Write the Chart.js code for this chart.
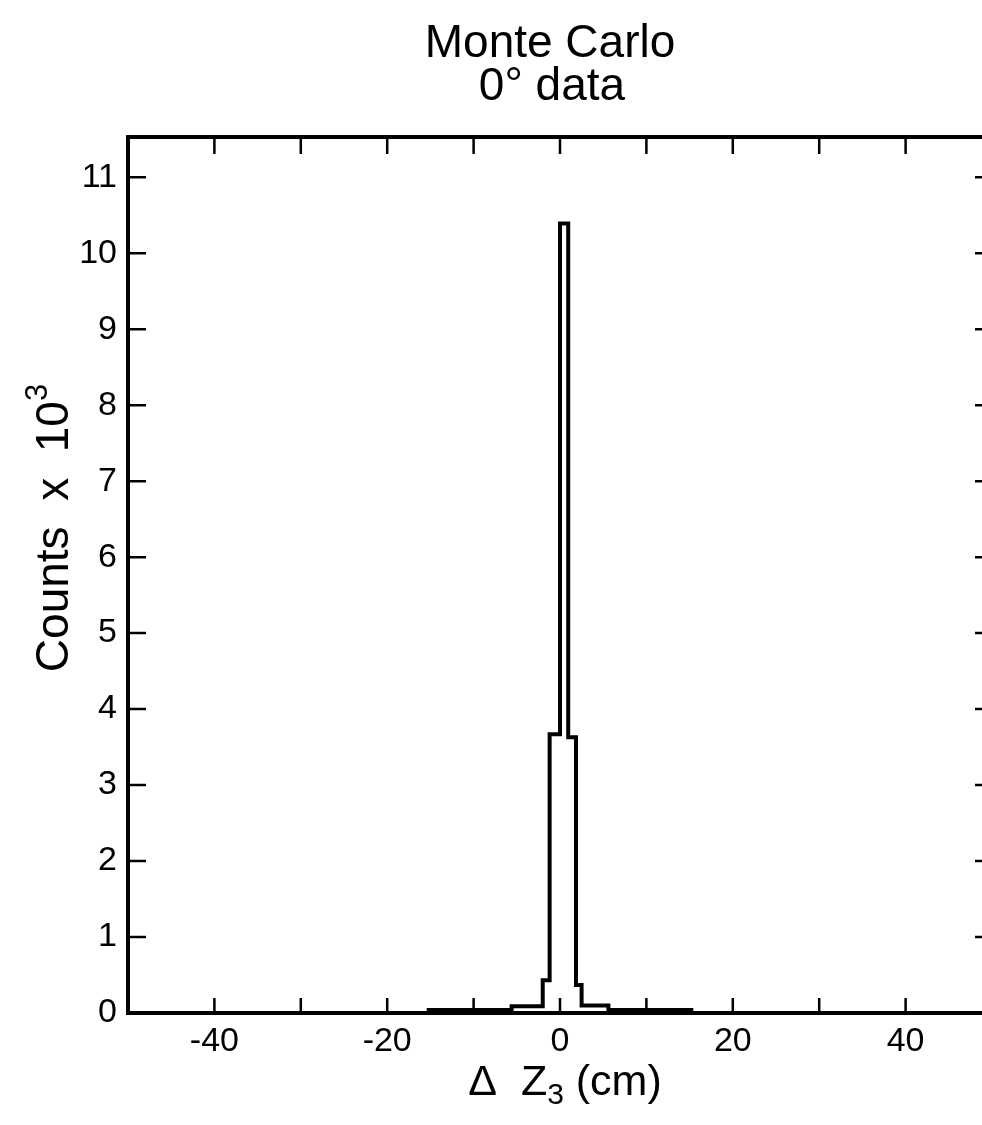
<!DOCTYPE html>
<html>
<head>
<meta charset="utf-8">
<script src="https://cdn.jsdelivr.net/npm/chart.js@4/dist/chart.umd.min.js"></script>
<style>
  html, body { margin: 0; padding: 0; background: #fff; overflow: hidden; }
  canvas { display: block; }
</style>
</head>
<body>
<canvas id="myChart" width="1000" height="1125" style="width:1000px;height:1125px"></canvas>
<script>
// bin edges (cm) and counts (x 10^3) of the Delta Z3 histogram
const binEdges = [-50, -15.2, -5.6, -2.0, -1.2, 0, 0.95, 1.85, 2.5, 5.6, 15.2, 50];
const binCounts = [0, 0.04, 0.09, 0.43, 3.67, 10.39, 3.63, 0.37, 0.1, 0.04, 0];
const xLabels = [-40, -20, 0, 20, 40];
const titleLines = ["Monte Carlo", "0° data"];

const FONT = "'Liberation Sans', Arial, Helvetica, sans-serif";

// step points: each edge carries the count of the bin that starts there
const histPoints = binEdges.map((e, i) => ({
  x: e,
  y: i < binCounts.length ? binCounts[i] : binCounts[binCounts.length - 1],
}));

function drawParts(ctx, parts, x, y) {
  // parts: [text, size, dy]
  let w = 0;
  parts.forEach(p => { ctx.font = p[1] + "px " + FONT; w += ctx.measureText(p[0]).width; });
  let cx = x - w / 2;
  parts.forEach(p => {
    ctx.font = p[1] + "px " + FONT;
    ctx.fillText(p[0], cx, y + p[2]);
    cx += ctx.measureText(p[0]).width;
  });
}

const framePlugin = {
  id: "frame",
  afterDraw(chart) {
    const { ctx, chartArea: a, scales: { x, y } } = chart;
    ctx.save();
    ctx.strokeStyle = "#000";
    ctx.lineWidth = 2.5;
    ctx.beginPath();
    x.ticks.forEach(t => {
      const px = x.getPixelForValue(t.value);
      ctx.moveTo(px, a.bottom);
      ctx.lineTo(px, a.bottom - 15);
      ctx.moveTo(px, a.top);
      ctx.lineTo(px, a.top + 17);
    });
    y.ticks.forEach(t => {
      const py = y.getPixelForValue(t.value);
      ctx.moveTo(a.left, py);
      ctx.lineTo(a.left + 18, py);
      ctx.moveTo(a.right, py);
      ctx.lineTo(a.right - 17, py);
    });
    ctx.stroke();
    ctx.lineWidth = 4;
    ctx.strokeRect(a.left, a.top, a.right - a.left, a.bottom - a.top);

    ctx.fillStyle = "#000";
    ctx.textAlign = "left";
    ctx.textBaseline = "alphabetic";
    // title
    drawParts(ctx, [[titleLines[0], 46, 0]], 550, 57);
    drawParts(ctx, [[titleLines[1], 46, 0]], 552, 100);
    // x title
    drawParts(ctx, [["\u0394  Z", 43, 0], ["3", 30, 9], [" (cm)", 43, 0]], 565, 1095);
    // y title
    ctx.translate(68, 528);
    ctx.rotate(-Math.PI / 2);
    drawParts(ctx, [["Counts  x  10", 46, 0], ["3", 31, -21]], 0, 0);
    ctx.restore();
  },
};

new Chart(document.getElementById("myChart").getContext("2d"), {
  type: "line",
  data: {
    datasets: [
      {
        data: histPoints,
        stepped: "before",
        borderColor: "#000",
        borderWidth: 4,
        pointRadius: 0,
        fill: false,
        tension: 0,
      },
    ],
  },
  options: {
    responsive: false,
    animation: false,
    layout: { padding: { top: 137, right: 8, left: 0, bottom: 0 } },
    plugins: { legend: { display: false }, title: { display: false }, tooltip: { enabled: false } },
    scales: {
      x: {
        type: "linear",
        min: -50,
        max: 50,
        afterFit: s => { s.height = 112; },
        grid: { display: false, drawTicks: false },
        border: { display: false },
        ticks: {
          stepSize: 10,
          autoSkip: false,
          maxRotation: 0,
          padding: 8,
          color: "#000",
          font: { family: FONT, size: 34 },
          callback: v => (xLabels.includes(v) ? String(v) : ""),
        },
      },
      y: {
        min: 0,
        max: 11.53,
        afterFit: s => { s.width = 128; },
        afterBuildTicks: s => { s.ticks = s.ticks.filter(t => Number.isInteger(t.value)); },
        grid: { display: false, drawTicks: false },
        border: { display: false },
        ticks: {
          stepSize: 1,
          padding: 11,
          color: "#000",
          font: { family: FONT, size: 34 },
        },
      },
    },
  },
  plugins: [framePlugin],
});
</script>
</body>
</html>
